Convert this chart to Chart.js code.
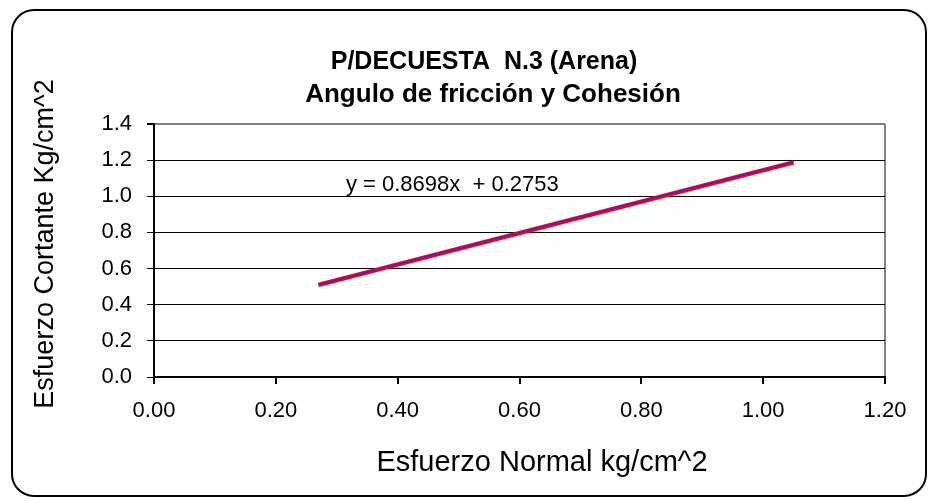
<!DOCTYPE html>
<html>
<head>
<meta charset="utf-8">
<script src="https://cdn.jsdelivr.net/npm/chart.js@4"></script>
<style>
  html, body { margin: 0; padding: 0; background: #fff; }
  #wrap { width: 931px; height: 501px; }
</style>
</head>
<body>
<div id="wrap"><canvas id="chart" width="931" height="501"></canvas></div>
<script>
// ===== data =====
const normalX = [0.27, 0.60, 1.05];      // Esfuerzo Normal
const shearY = [0.51, 0.80, 1.19];       // Esfuerzo Cortante
const trendX = [0.27, 1.05];             // trendline ends
const trendY = [0.51, 1.188];
const xTicks = [0, 0.2, 0.4, 0.6, 0.8, 1.0, 1.2];
const yTicks = [0, 0.2, 0.4, 0.6, 0.8, 1.0, 1.2, 1.4];
const titleLines = ["P/DECUESTA  N.3 (Arena)", "Angulo de fricción y Cohesión"];
const xTitle = "Esfuerzo Normal kg/cm^2";
const yTitle = "Esfuerzo Cortante Kg/cm^2";
const equation = "y = 0.8698x  + 0.2753";
const eqPos = [0.315, 1.065];

const FONT = "'Liberation Sans', Arial, sans-serif";

const pts = (xs, ys) => xs.map((x, i) => ({ x: x, y: ys[i] }));

// frame, titles, axis titles and the equation label
const extras = {
  id: "extras",
  afterDraw(chart) {
    const ctx = chart.ctx;
    ctx.save();
    // rounded outer frame
    ctx.strokeStyle = "#000";
    ctx.lineWidth = 2;
    ctx.beginPath();
    ctx.roundRect(12, 10, 914, 486, 22);
    ctx.stroke();

    ctx.fillStyle = "#000";
    ctx.textAlign = "center";
    ctx.textBaseline = "alphabetic";
    ctx.font = "bold 25px " + FONT;
    ctx.fillText(titleLines[0], 484, 69);
    ctx.font = "bold 26px " + FONT;
    ctx.fillText(titleLines[1], 493, 102);

    // axis titles
    ctx.textBaseline = "middle";
    ctx.font = "29px " + FONT;
    ctx.fillText(xTitle, 542, 463);
    ctx.save();
    ctx.translate(46, 244);
    ctx.rotate(-Math.PI / 2);
    ctx.font = "27px " + FONT;
    ctx.fillText(yTitle, 0, 0);
    ctx.restore();

    const xs = chart.scales.x, ys = chart.scales.y;
    ctx.font = "22px " + FONT;
    ctx.textAlign = "left";
    ctx.fillText(equation, xs.getPixelForValue(eqPos[0]), ys.getPixelForValue(eqPos[1]));
    ctx.restore();
  }
};

new Chart(document.getElementById("chart").getContext("2d"), {
  type: "scatter",
  data: {
    datasets: [
      {
        label: "Datos",
        data: pts(normalX, shearY),
        showLine: true,
        borderColor: "rgb(60,40,220)",
        borderWidth: 1.5,
        pointRadius: 0
      },
      {
        label: "Lineal",
        data: pts(trendX, trendY),
        showLine: true,
        borderColor: "#ff0000",
        borderWidth: 4.5,
        pointRadius: 0
      }
    ]
  },
  options: {
    responsive: false,
    animation: false,
    layout: { padding: { left: 0, right: 46, top: 124, bottom: 0 } },
    plugins: {
      legend: { display: false },
      tooltip: { enabled: false }
    },
    scales: {
      x: {
        type: "linear",
        min: 0,
        max: 1.2,
        afterBuildTicks: (s) => { s.ticks = xTicks.map((v) => ({ value: v })); },
        afterFit: (s) => { s.height = 124; },
        ticks: {
          color: "#000",
          font: { family: FONT, size: 22 },
          padding: 14,
          maxRotation: 0,
          callback: (v) => Number(v).toFixed(2)
        },
        grid: {
          color: (c) => (c.tick && c.tick.value === 1.2 ? "#808080" : "rgba(0,0,0,0)"),
          lineWidth: 2,
          tickColor: "#000",
          tickLength: 7
        },
        border: { color: "#000", width: 2 }
      },
      y: {
        type: "linear",
        min: 0,
        max: 1.4,
        afterBuildTicks: (s) => { s.ticks = yTicks.map((v) => ({ value: v })); },
        afterFit: (s) => { s.width = 154; },
        ticks: {
          color: "#000",
          font: { family: FONT, size: 22 },
          padding: 15,
          callback: (v) => Number(v).toFixed(1)
        },
        grid: {
          color: (c) => (c.tick && c.tick.value === 1.4 ? "#808080" : "#000"),
          lineWidth: (c) => (c.tick && c.tick.value === 1.4 ? 2 : 1),
          tickColor: "#000",
          tickLength: 7
        },
        border: { color: "#000", width: 2 }
      }
    }
  },
  plugins: [extras]
});
</script>
</body>
</html>
